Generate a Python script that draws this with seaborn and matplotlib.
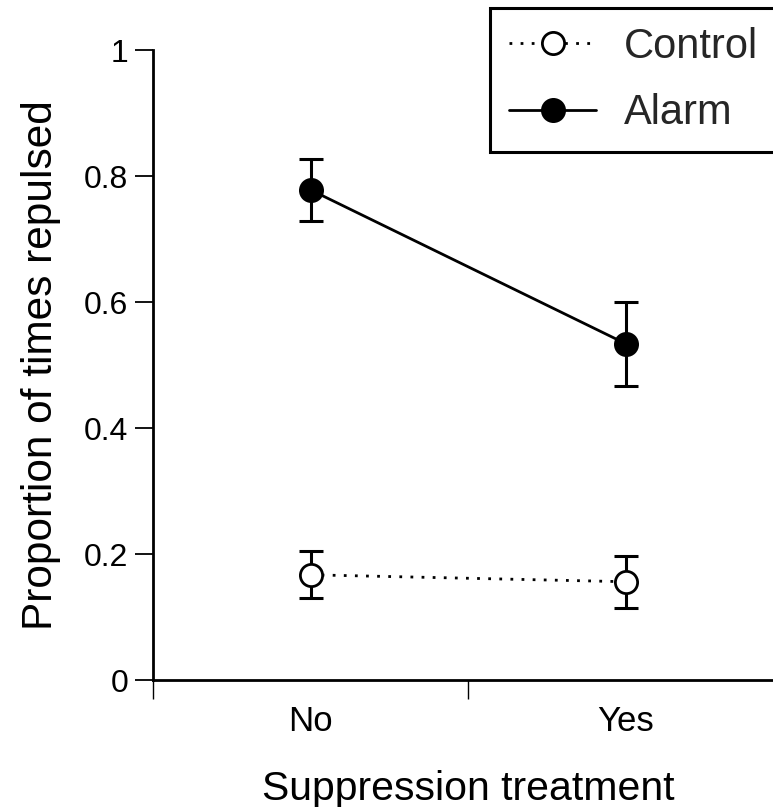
import matplotlib
matplotlib.use("Agg")
import matplotlib.pyplot as plt
import seaborn as sns
import pandas as pd
from matplotlib.ticker import FixedLocator, NullFormatter, FixedFormatter

# values
treatments = ["No", "Yes"]
positions = [0.5, 1.5]
control_mean = [0.167, 0.156]
control_low = [0.130, 0.115]
control_high = [0.205, 0.197]
alarm_mean = [0.778, 0.534]
alarm_low = [0.729, 0.467]
alarm_high = [0.827, 0.600]

sns.set_theme(style="ticks")
plt.rcParams["font.family"] = ["Liberation Sans", "DejaVu Sans"]

fig = plt.figure(figsize=(7.73, 8.07), dpi=100)
ax = fig.add_axes([153 / 773, 1 - 680 / 807, 630 / 773, 630 / 807])

groups = [
    ("Control", control_mean, control_low, control_high, "white", (0, (1, 3)), 2.0),
    ("Alarm", alarm_mean, alarm_low, alarm_high, "black", "-", 2.0),
]
for name, mean, low, high, face, ls, lw in groups:
    df = pd.DataFrame({"pos": positions, "prop": mean})
    ax.errorbar(positions, mean,
                yerr=[[m - l for m, l in zip(mean, low)], [h - m for m, h in zip(mean, high)]],
                fmt="none", ecolor="black", elinewidth=2.2, capsize=8.5, capthick=2.2, zorder=2)
    sns.lineplot(data=df, x="pos", y="prop", ax=ax, color="black", linestyle=ls, linewidth=lw,
                 marker="o", markersize=16, markerfacecolor=face, markeredgecolor="black",
                 markeredgewidth=2, label=name, zorder=3, errorbar=None)

ax.set_xlim(0, 2)
ax.set_ylim(0, 1)
ax.xaxis.set_major_locator(FixedLocator([0, 1, 2]))
ax.xaxis.set_major_formatter(NullFormatter())
ax.xaxis.set_minor_locator(FixedLocator(positions))
ax.xaxis.set_minor_formatter(FixedFormatter(treatments))
ax.tick_params(axis="x", which="major", length=14, width=1, direction="out", color="black")
ax.tick_params(axis="x", which="minor", length=0, labelsize=25, pad=18, labelcolor="black")
ax.set_yticks([0, 0.2, 0.4, 0.6, 0.8, 1.0])
ax.set_yticklabels(["0", "0.2", "0.4", "0.6", "0.8", "1"])
ax.tick_params(axis="y", length=13, width=1.3, direction="out", labelsize=23, pad=5,
               color="black", labelcolor="black")

sns.despine(ax=ax)
for side in ["left", "bottom"]:
    ax.spines[side].set_linewidth(2)
    ax.spines[side].set_color("black")

ax.set_xlabel("Suppression treatment", fontsize=29.5, labelpad=23, color="black")
ax.set_ylabel("Proportion of times repulsed", fontsize=30.5, labelpad=16, color="black")

leg = ax.legend(loc="upper left", bbox_to_anchor=(490 / 773, 1 - 8 / 807),
                bbox_transform=fig.transFigure, fontsize=30, frameon=True, fancybox=False,
                handlelength=2.1, handletextpad=0.67, borderpad=0.45, labelspacing=0.64,
                borderaxespad=0)
leg.get_frame().set_edgecolor("black")
leg.get_frame().set_linewidth(2.2)
leg.get_frame().set_alpha(1)

fig.savefig("out.png", dpi=100)
